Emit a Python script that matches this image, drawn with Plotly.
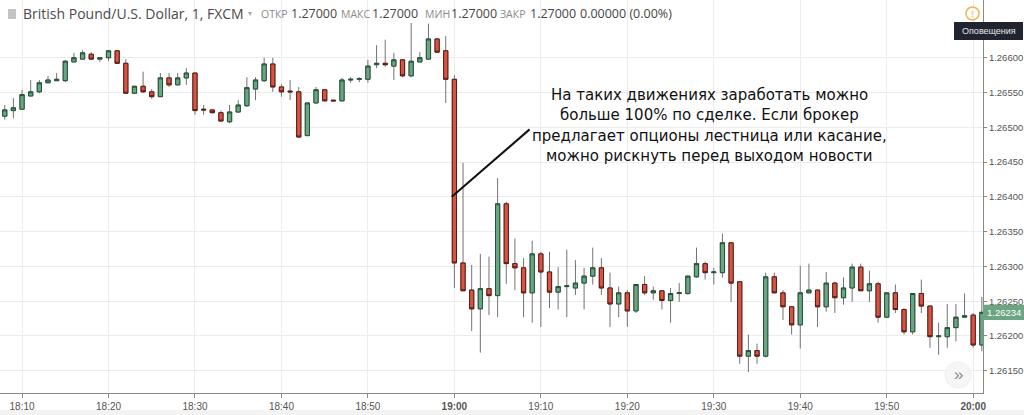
import plotly.graph_objects as go
import pandas as pd

# ---------------- data (GBP/USD, 1-minute candles, FXCM) ----------------
start_time = "2019-03-12 18:08"
n_candles = 114
times = pd.date_range(start_time, periods=n_candles, freq="1min")

opens = [1.26516, 1.26524, 1.26526, 1.26545, 1.26551, 1.26564, 1.26567, 1.26567, 1.26594, 1.26598,
         1.26605, 1.26598, 1.26600, 1.26610, 1.26592, 1.26549, 1.26559, 1.26551, 1.26544, 1.26571,
         1.26561, 1.26571, 1.26578, 1.26526, 1.26525, 1.26521, 1.26508, 1.26522, 1.26531, 1.26555,
         1.26567, 1.26591, 1.26558, 1.26552, 1.26551, 1.26488, 1.26535, 1.26554, 1.26539, 1.26538,
         1.26568, 1.26569, 1.26569, 1.26590, 1.26592, 1.26588, 1.26597, 1.26574, 1.26594, 1.26598,
         1.26627, 1.26610, 1.26569, 1.26305, 1.26266, 1.26239, 1.26268, 1.26258, 1.26390, 1.26304,
         1.26298, 1.26262, 1.26318, 1.26292, 1.26263, 1.26271, 1.26269, 1.26276, 1.26286, 1.26298,
         1.26269, 1.26246, 1.26262, 1.26236, 1.26274, 1.26262, 1.26265, 1.26251, 1.26261, 1.26261,
         1.26285, 1.26304, 1.26291, 1.26291, 1.26334, 1.26278, 1.26171, 1.26179, 1.26171, 1.26285,
         1.26262, 1.26242, 1.26216, 1.26262, 1.26266, 1.26242, 1.26276, 1.26255, 1.26269, 1.26299,
         1.26265, 1.26275, 1.26227, 1.26262, 1.26238, 1.26206, 1.26261, 1.26243, 1.26199, 1.26199,
         1.26212, 1.26227, 1.26230, 1.26187]
highs = [1.26532, 1.26542, 1.26554, 1.26568, 1.26568, 1.26574, 1.26578, 1.26597, 1.26607, 1.26611,
         1.26608, 1.26600, 1.26611, 1.26611, 1.26598, 1.26559, 1.26580, 1.26555, 1.26578, 1.26578,
         1.26578, 1.26585, 1.26578, 1.26532, 1.26526, 1.26524, 1.26532, 1.26539, 1.26572, 1.26572,
         1.26600, 1.26600, 1.26562, 1.26568, 1.26558, 1.26535, 1.26558, 1.26554, 1.26539, 1.26571,
         1.26572, 1.26572, 1.26597, 1.26618, 1.26626, 1.26607, 1.26598, 1.26650, 1.26608, 1.26649,
         1.26628, 1.26631, 1.26575, 1.26449, 1.26302, 1.26318, 1.26314, 1.26427, 1.26393, 1.26340,
         1.26312, 1.26337, 1.26321, 1.26321, 1.26299, 1.26324, 1.26309, 1.26298, 1.26327, 1.26312,
         1.26291, 1.26271, 1.26266, 1.26274, 1.26286, 1.26271, 1.26265, 1.26269, 1.26276, 1.26287,
         1.26327, 1.26307, 1.26298, 1.26347, 1.26334, 1.26278, 1.26202, 1.26189, 1.26291, 1.26291,
         1.26266, 1.26242, 1.26301, 1.26304, 1.26266, 1.26292, 1.26278, 1.26284, 1.26304, 1.26304,
         1.26294, 1.26278, 1.26262, 1.26274, 1.26240, 1.26261, 1.26281, 1.26243, 1.26219, 1.26246,
         1.26246, 1.26261, 1.26233, 1.26256]
lows = [1.26511, 1.26513, 1.26526, 1.26545, 1.26549, 1.26564, 1.26567, 1.26565, 1.26594, 1.26598,
        1.26597, 1.26594, 1.26595, 1.26591, 1.26548, 1.26548, 1.26549, 1.26541, 1.26544, 1.26558,
        1.26561, 1.26561, 1.26518, 1.26518, 1.26520, 1.26508, 1.26506, 1.26521, 1.26529, 1.26539,
        1.26565, 1.26551, 1.26544, 1.26539, 1.26485, 1.26488, 1.26534, 1.26538, 1.26538, 1.26538,
        1.26564, 1.26565, 1.26564, 1.26585, 1.26587, 1.26568, 1.26572, 1.26572, 1.26594, 1.26597,
        1.26607, 1.26535, 1.26269, 1.26265, 1.26207, 1.26176, 1.26230, 1.26227, 1.26275, 1.26266,
        1.26227, 1.26219, 1.26213, 1.26240, 1.26238, 1.26227, 1.26259, 1.26238, 1.26274, 1.26259,
        1.26213, 1.26227, 1.26213, 1.26233, 1.26259, 1.26252, 1.26238, 1.26219, 1.26249, 1.26259,
        1.26284, 1.26281, 1.26274, 1.26284, 1.26249, 1.26160, 1.26148, 1.26160, 1.26169, 1.26262,
        1.26223, 1.26202, 1.26182, 1.26262, 1.26213, 1.26235, 1.26233, 1.26245, 1.26249, 1.26265,
        1.26249, 1.26219, 1.26227, 1.26233, 1.26202, 1.26202, 1.26233, 1.26183, 1.26173, 1.26183,
        1.26192, 1.26227, 1.26183, 1.26178]
closes = [1.26525, 1.26528, 1.26547, 1.26551, 1.26564, 1.26568, 1.26569, 1.26595, 1.26600, 1.26607,
          1.26598, 1.26600, 1.26610, 1.26592, 1.26549, 1.26559, 1.26551, 1.26544, 1.26571, 1.26561,
          1.26571, 1.26578, 1.26524, 1.26525, 1.26521, 1.26509, 1.26522, 1.26532, 1.26557, 1.26568,
          1.26591, 1.26558, 1.26551, 1.26551, 1.26486, 1.26535, 1.26554, 1.26538, 1.26538, 1.26568,
          1.26569, 1.26570, 1.26588, 1.26592, 1.26590, 1.26597, 1.26574, 1.26595, 1.26600, 1.26627,
          1.26608, 1.26569, 1.26305, 1.26265, 1.26239, 1.26268, 1.26258, 1.26390, 1.26304, 1.26298,
          1.26262, 1.26318, 1.26292, 1.26263, 1.26271, 1.26272, 1.26276, 1.26286, 1.26298, 1.26269,
          1.26246, 1.26262, 1.26236, 1.26274, 1.26262, 1.26265, 1.26251, 1.26261, 1.26262, 1.26286,
          1.26304, 1.26291, 1.26292, 1.26334, 1.26276, 1.26171, 1.26179, 1.26171, 1.26285, 1.26262,
          1.26242, 1.26216, 1.26262, 1.26266, 1.26242, 1.26276, 1.26255, 1.26269, 1.26299, 1.26265,
          1.26275, 1.26227, 1.26262, 1.26238, 1.26206, 1.26261, 1.26243, 1.26199, 1.26200, 1.26212,
          1.26227, 1.26229, 1.26187, 1.26234]

time_ticks = ["18:10", "18:20", "18:30", "18:40", "18:50", "19:00",
              "19:10", "19:20", "19:30", "19:40", "19:50", "20:00"]
price_ticks = [1.26150, 1.26200, 1.26250, 1.26300, 1.26350, 1.26400,
               1.26450, 1.26500, 1.26550, 1.26600]
last_price_label = "1.26234"

header_title = "British Pound/U.S. Dollar, 1, FXCM"
header_items = [("ОТКР", "1.27000"), ("МАКС", "1.27000"), ("МИН", "1.27000"),
                ("ЗАКР", "1.27000")]
header_change = "0.00000 (0.00%)"
note_lines = ["На таких движениях заработать можно",
              "больше 100% по сделке. Если брокер",
              "предлагает опционы лестница или касание,",
              "можно рискнуть перед выходом новости"]

# ---------------- styling ----------------
W, H = 1024, 415
PLOT_R, PLOT_B = 983, 393        # plot area right / bottom in pixels
UP, DOWN = "#6ba583", "#d75442"
UP_BORDER, DOWN_BORDER = "#225437", "#5b1a13"
WICK = "#737375"
GRID = "#ececec"
AXIS = "#8a8a8a"
day = str(times[0].date())


def px(x):
    return x / PLOT_R


def py(y):
    return 1 - y / PLOT_B


body_hi = [max(o, c) for o, c in zip(opens, closes)]
body_lo = [min(o, c) for o, c in zip(opens, closes)]

fig = go.Figure()
# wicks (grey)
fig.add_trace(go.Candlestick(
    x=times, open=opens, high=highs, low=lows, close=closes,
    increasing=dict(line=dict(color=WICK, width=1), fillcolor=UP),
    decreasing=dict(line=dict(color=WICK, width=1), fillcolor=DOWN),
    whiskerwidth=0, showlegend=False, hoverinfo="skip"))
# bodies with darker borders
fig.add_trace(go.Candlestick(
    x=times, open=opens, high=body_hi, low=body_lo, close=closes,
    increasing=dict(line=dict(color=UP_BORDER, width=1), fillcolor=UP),
    decreasing=dict(line=dict(color=DOWN_BORDER, width=1), fillcolor=DOWN),
    whiskerwidth=0, showlegend=False, hoverinfo="skip"))

tickvals = [f"{day} {t}" for t in time_ticks]
ticktext = [f"<b>{t}</b>" if t.endswith(":00") else t for t in time_ticks]

fig.update_layout(
    width=W, height=H,
    margin=dict(l=0, r=W - PLOT_R, t=0, b=H - PLOT_B, autoexpand=False),
    paper_bgcolor="white", plot_bgcolor="white",
    font=dict(family="Liberation Sans, Arial, sans-serif", color="#4f4f4f", size=10),
    showlegend=False,
    xaxis=dict(
        type="date", rangeslider=dict(visible=False),
        range=[f"{day} 18:07:27", f"{day} 20:01:08"],
        tickvals=tickvals, ticktext=ticktext,
        showgrid=True, gridcolor=GRID, gridwidth=1,
        showline=True, linecolor=AXIS, linewidth=1,
        ticks="outside", ticklen=4, tickcolor=AXIS,
        tickfont=dict(size=10, color="#555555"), zeroline=False, automargin=False),
    yaxis=dict(
        side="right", range=[1.26118, 1.26683],
        tickvals=price_ticks, tickformat=".5f",
        showgrid=True, gridcolor=GRID, gridwidth=1,
        showline=True, linecolor=AXIS, linewidth=1,
        ticks="outside", ticklen=3, tickcolor=AXIS,
        tickfont=dict(size=9.5, color="#555555"), zeroline=False, automargin=False),
)

shapes = []
annotations = []
HEAD_FONT = "Open Sans, Liberation Sans, sans-serif"

# header
shapes.append(dict(type="rect", xref="paper", yref="paper",
                   x0=px(8), x1=px(16), y0=py(19), y1=py(9),
                   fillcolor="#c4c4c4", line=dict(width=0)))
annotations.append(dict(text=header_title, xref="paper", yref="paper",
                        x=px(21), y=py(14), xanchor="left", yanchor="middle",
                        showarrow=False, font=dict(family=HEAD_FONT, size=14, color="#4a4a4a")))
annotations.append(dict(text="▾", xref="paper", yref="paper",
                        x=px(246), y=py(14), xanchor="left", yanchor="middle",
                        showarrow=False, font=dict(size=8, color="#a8a8a8")))
label_x = [259, 339, 423, 498]
value_x = [289, 370, 449, 528]
for (lab, val), lx, vx in zip(header_items, label_x, value_x):
    annotations.append(dict(text=lab, xref="paper", yref="paper",
                            x=px(lx), y=py(14), xanchor="left", yanchor="middle",
                            showarrow=False, font=dict(family=HEAD_FONT, size=10.5, color="#8a8a8a")))
    annotations.append(dict(text=val, xref="paper", yref="paper",
                            x=px(vx), y=py(14), xanchor="left", yanchor="middle",
                            showarrow=False, font=dict(family=HEAD_FONT, size=12.5, color="#454545")))
annotations.append(dict(text=header_change, xref="paper", yref="paper",
                        x=px(578), y=py(14), xanchor="left", yanchor="middle",
                        showarrow=False, font=dict(family=HEAD_FONT, size=12.5, color="#454545")))

# note and pointer line
shapes.append(dict(type="line", xref="x", yref="y",
                   x0=f"{day} 18:59:42", y0=1.26400,
                   x1=f"{day} 19:08:42", y1=1.26497,
                   line=dict(color="#111111", width=2)))
for i, line in enumerate(note_lines):
    annotations.append(dict(text=line, xref="paper", yref="paper",
                            x=px(709), y=py(95 + 20.3 * i), xanchor="center",
                            yanchor="middle", showarrow=False,
                            font=dict(family="DejaVu Sans, Verdana, sans-serif",
                                      size=15, color="#111111")))

# alert icon + tooltip
shapes.append(dict(type="circle", xref="paper", yref="paper",
                   x0=px(966), x1=px(979), y0=py(20), y1=py(7),
                   fillcolor="rgba(0,0,0,0)", line=dict(color="#f3b34c", width=1.5)))
annotations.append(dict(text="!", xref="paper", yref="paper",
                        x=px(972.5), y=py(13.5), xanchor="center", yanchor="middle",
                        showarrow=False, font=dict(size=9, color="#f3b34c")))
shapes.append(dict(type="rect", xref="paper", yref="paper",
                   x0=px(954), x1=px(1023), y0=py(40), y1=py(22),
                   fillcolor="#1f2430", line=dict(width=0)))
annotations.append(dict(text="Оповещения", xref="paper", yref="paper",
                        x=px(988.5), y=py(31), xanchor="center", yanchor="middle",
                        showarrow=False, font=dict(size=9, color="#e8e8e8")))

# last price label
shapes.append(dict(type="rect", xref="paper", yref="y",
                   x0=px(983), x1=px(1024), y0=closes[-1] - 0.00011, y1=closes[-1] + 0.00011,
                   fillcolor=UP, line=dict(width=0)))
annotations.append(dict(text=last_price_label, xref="paper", yref="y",
                        x=px(1003.5), y=closes[-1], xanchor="center", yanchor="middle",
                        showarrow=False, font=dict(size=9.5, color="white")))

# scroll button
shapes.append(dict(type="circle", xref="paper", yref="paper",
                   x0=px(945), x1=px(971), y0=py(388), y1=py(362),
                   fillcolor="rgba(245,245,245,0.9)", line=dict(color="#eeeeee", width=1)))
annotations.append(dict(text="»", xref="paper", yref="paper",
                        x=px(958), y=py(374), xanchor="center", yanchor="middle",
                        showarrow=False, font=dict(size=17, color="#8a8a8a")))

# bottom strip
shapes.append(dict(type="rect", xref="paper", yref="paper",
                   x0=px(0), x1=px(1024), y0=py(415), y1=py(410),
                   fillcolor="#f3f3f3", line=dict(width=0), layer="below"))

fig.update_layout(shapes=shapes, annotations=annotations)
fig.write_html("out.html", config={"displayModeBar": False},
               post_script="document.body.style.margin='0';document.body.style.overflow='hidden';")
